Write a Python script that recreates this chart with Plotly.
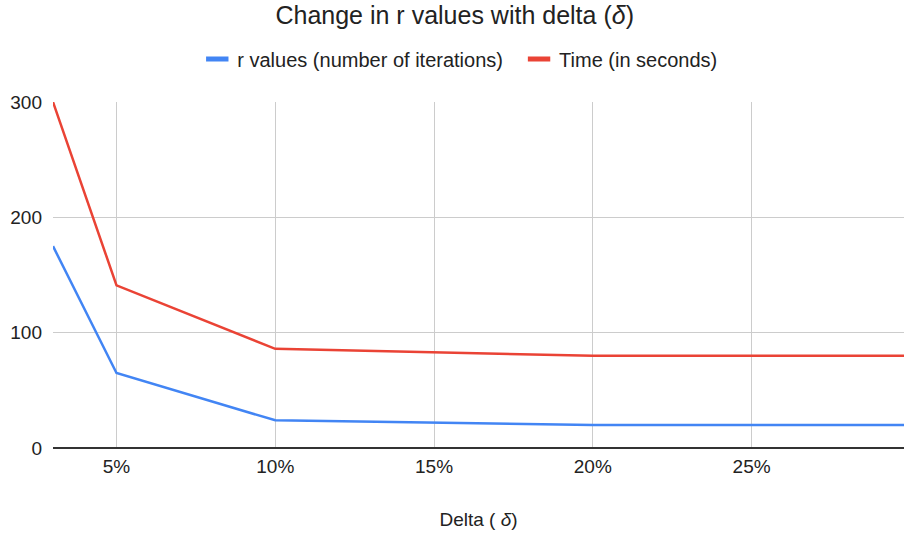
import plotly.graph_objects as go

delta = [3, 5, 10, 20, 30]
r_values = [175, 65, 24, 20, 20]
time_sec = [300, 141, 86, 80, 80]
x_ticks = [5, 10, 15, 20, 25]
x_tick_labels = ["5%", "10%", "15%", "20%", "25%"]
y_ticks = [0, 100, 200, 300]
series_names = ["r values (number of iterations)\u00a0\u00a0", "Time (in seconds)"]
series_colors = ["#4285F4", "#EA4335"]

FONT = "Liberation Sans, Arial, sans-serif"

fig = go.Figure()
for name, vals, col in zip(series_names, [r_values, time_sec], series_colors):
    fig.add_trace(go.Scatter(x=delta, y=vals, mode="lines", name=name.strip(),
                             showlegend=False, line=dict(color=col, width=2.5)))
    fig.add_trace(go.Scatter(x=[None], y=[None], mode="markers", name=name,
                             marker=dict(symbol="line-ew", size=18, color=col,
                                         line=dict(color=col, width=5))))

fig.update_layout(
    width=904, height=535,
    margin=dict(l=53, r=0, t=102, b=87, autoexpand=False),
    paper_bgcolor="white", plot_bgcolor="white",
    font=dict(family=FONT, size=16, color="#222222"),
    title=dict(text="Change in r values with delta (<i>δ</i>)", x=0.503, xanchor="center",
               y=0.972, yanchor="middle", font=dict(family=FONT, size=25, color="#222222")),
    legend=dict(orientation="h", x=0.478, xanchor="center", y=1.124, yanchor="middle",
                font=dict(family=FONT, size=20, color="#222222"), itemwidth=30),
    showlegend=True,
    xaxis=dict(range=[3, 29.8], tickvals=x_ticks, ticktext=x_tick_labels,
               showgrid=True, gridcolor="#cccccc", gridwidth=1, automargin=False,
               zeroline=False, showline=False, ticks="", ticklabelstandoff=5,
               tickfont=dict(family=FONT, size=19, color="#222222"),
               title=dict(text="Delta ( <i>δ</i>)", font=dict(family=FONT, size=19, color="#222222"), standoff=36)),
    yaxis=dict(range=[0, 300], tickvals=y_ticks, automargin=False,
               showgrid=True, gridcolor="#cccccc", gridwidth=1,
               zeroline=True, zerolinecolor="#333333", zerolinewidth=1.5,
               showline=False, ticks="", ticklabelstandoff=10,
               tickfont=dict(family=FONT, size=19, color="#222222")),
)
fig.write_html("out.html", config={"displayModeBar": False},
               post_script="document.body.style.margin='0px';document.body.style.overflow='hidden';")
